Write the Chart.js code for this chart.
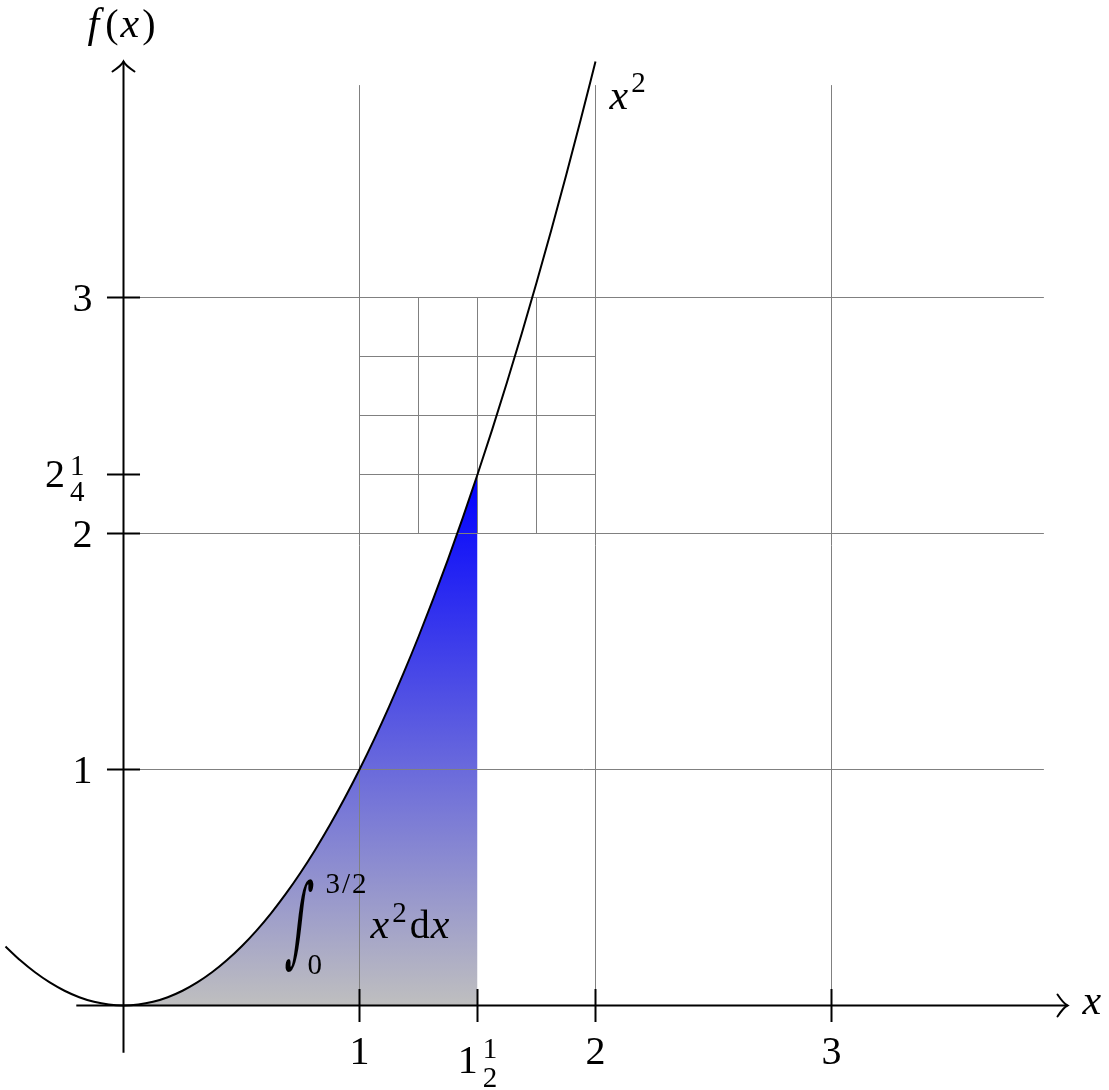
<!DOCTYPE html>
<html>
<head>
<meta charset="utf-8">
<title>x^2</title>
<script src="https://cdn.jsdelivr.net/npm/chart.js@4.4.1/dist/chart.umd.min.js"></script>
<style>
  html, body { margin: 0; padding: 0; background: #fff; }
  #wrap { width: 1109px; height: 1090px; }
</style>
</head>
<body>
<div id="wrap"><canvas id="plot"></canvas></div>
<script>
const curveX = [-0.5, -0.4375, -0.375, -0.3125, -0.25, -0.1875, -0.125, -0.0625,
                0, 0.0625, 0.125, 0.1875, 0.25, 0.3125, 0.375, 0.4375,
                0.5, 0.5625, 0.625, 0.6875, 0.75, 0.8125, 0.875, 0.9375,
                1, 1.0625, 1.125, 1.1875, 1.25, 1.3125, 1.375, 1.4375,
                1.5, 1.5625, 1.625, 1.6875, 1.75, 1.8125, 1.875, 1.9375, 2];
const curveY = [0.25, 0.1914, 0.1406, 0.0977, 0.0625, 0.0352, 0.0156, 0.0039,
                0, 0.0039, 0.0156, 0.0352, 0.0625, 0.0977, 0.1406, 0.1914,
                0.25, 0.3164, 0.3906, 0.4727, 0.5625, 0.6602, 0.7656, 0.8789,
                1, 1.1289, 1.2656, 1.4102, 1.5625, 1.7227, 1.8906, 2.0664,
                2.25, 2.4414, 2.6406, 2.8477, 3.0625, 3.2852, 3.5156, 3.7539, 4];

// integral limits (shaded area)
const areaFrom = 0;
const areaTo = 1.5;

// grid
const majorGrid = [1, 2, 3];
const majorGridEnd = 3.9;
const fineGridX = [1, 1.25, 1.5, 1.75, 2];
const fineGridY = [2, 2.25, 2.5, 2.75, 3];

// axes
const axisStart = -0.2;
const axisEnd = 4;
const tickHalf = 0.07;

// ticks: [whole, numerator, denominator]
const xTicks = [1, 1.5, 2, 3];
const xTickLabels = [['1'], ['1', '1', '2'], ['2'], ['3']];
const yTicks = [1, 2, 2.25, 3];
const yTickLabels = [['1'], ['2'], ['2', '1', '4'], ['3']];

const FONT = '"Liberation Serif", "DejaVu Serif", serif';
const rm = s => s + 'px ' + FONT;
const it = s => 'italic ' + s + 'px ' + FONT;

function seg(x1, y1, x2, y2, color, width, order) {
  return {
    data: [{ x: x1, y: y1 }, { x: x2, y: y2 }],
    showLine: true, borderColor: color, borderWidth: width,
    pointRadius: 0, order: order, fill: false
  };
}

const curvePts = curveX.map((x, i) => ({ x: x, y: curveY[i] }));
const areaPts = curvePts.filter(p => p.x >= areaFrom && p.x <= areaTo);

const datasets = [];

// shaded integral
datasets.push({
  data: areaPts,
  showLine: true,
  borderWidth: 0,
  borderColor: 'rgba(0,0,0,0)',
  pointRadius: 0,
  cubicInterpolationMode: 'monotone',
  fill: 'origin',
  order: 10,
  backgroundColor: ctx => {
    const chart = ctx.chart;
    if (!chart.chartArea) return 'rgb(95,95,223)';
    const ys = chart.scales.y;
    const g = chart.ctx.createLinearGradient(0, ys.getPixelForValue(0), 0, ys.getPixelForValue(areaPts[areaPts.length - 1].y));
    g.addColorStop(0, 'rgb(191,191,191)');
    g.addColorStop(1, 'rgb(0,0,255)');
    return g;
  }
});

// grid lines
const gridColor = 'rgb(128,128,128)';
majorGrid.forEach(v => {
  datasets.push(seg(v, 0, v, majorGridEnd, gridColor, 1, 8));
  datasets.push(seg(0, v, majorGridEnd, v, gridColor, 1, 8));
});
fineGridX.forEach(v => datasets.push(seg(v, fineGridY[0], v, fineGridY[fineGridY.length - 1], gridColor, 1, 8)));
fineGridY.forEach(v => datasets.push(seg(fineGridX[0], v, fineGridX[fineGridX.length - 1], v, gridColor, 1, 8)));

// curve
datasets.push({
  data: curvePts,
  showLine: true,
  borderColor: '#000',
  borderWidth: 2,
  pointRadius: 0,
  cubicInterpolationMode: 'monotone',
  fill: false,
  order: 3
});

// axes and ticks
datasets.push(seg(axisStart, 0, axisEnd, 0, '#000', 2, 1));
datasets.push(seg(0, axisStart, 0, axisEnd, '#000', 2, 1));
xTicks.forEach(v => datasets.push(seg(v, -tickHalf, v, tickHalf, '#000', 2, 1)));
yTicks.forEach(v => datasets.push(seg(-tickHalf, v, tickHalf, v, '#000', 2, 1)));

// draw a run of text pieces, returns total width
function runs(ctx, parts, x, y, measureOnly) {
  let cx = x;
  parts.forEach(p => {
    ctx.font = p.f;
    if (!measureOnly) ctx.fillText(p.t, cx + (p.dx || 0), y + (p.dy || 0));
    cx += ctx.measureText(p.t).width + (p.dx || 0);
  });
  return cx - x;
}

function arrowHead(ctx, tx, ty, dir) {
  ctx.save();
  ctx.translate(tx, ty);
  if (dir === 'up') ctx.rotate(-Math.PI / 2);
  ctx.beginPath();
  ctx.moveTo(-10, -11);
  ctx.bezierCurveTo(-6, -5, -3, -1.5, 0, 0);
  ctx.bezierCurveTo(-3, 1.5, -6, 5, -10, 11);
  ctx.lineWidth = 2;
  ctx.strokeStyle = '#000';
  ctx.lineCap = 'round';
  ctx.stroke();
  ctx.restore();
}

const labels = {
  id: 'labels',
  afterDatasetsDraw(chart) {
    const ctx = chart.ctx;
    const xs = chart.scales.x, ys = chart.scales.y;
    const px = v => xs.getPixelForValue(v), py = v => ys.getPixelForValue(v);
    ctx.save();
    ctx.fillStyle = '#000';
    ctx.textBaseline = 'alphabetic';
    ctx.textAlign = 'left';

    arrowHead(ctx, px(axisEnd), py(0), 'right');
    arrowHead(ctx, px(0), py(axisEnd), 'up');

    const big = 40, bigIt = 42, small = 29;

    // x tick labels
    xTicks.forEach((v, i) => {
      const l = xTickLabels[i];
      if (l.length === 1) {
        ctx.font = rm(big);
        const w = ctx.measureText(l[0]).width;
        ctx.fillText(l[0], px(v) - w / 2, py(0) + 58);
      } else {
        ctx.font = rm(big);
        const w1 = ctx.measureText(l[0]).width;
        ctx.font = rm(small);
        const wf = Math.max(ctx.measureText(l[1]).width, ctx.measureText(l[2]).width);
        const total = w1 + 5 + wf;
        const left = px(v) - total / 2;
        const base = py(0) + 67;
        ctx.font = rm(big);
        ctx.fillText(l[0], left, base);
        ctx.font = rm(small);
        const fc = left + w1 + 5 + wf / 2;
        ctx.fillText(l[1], fc - ctx.measureText(l[1]).width / 2, base - 15);
        ctx.fillText(l[2], fc - ctx.measureText(l[2]).width / 2, base + 14);
      }
    });

    // y tick labels
    yTicks.forEach((v, i) => {
      const l = yTickLabels[i];
      const right = px(0) - 31;
      if (l.length === 1) {
        ctx.font = rm(big);
        const w = ctx.measureText(l[0]).width;
        ctx.fillText(l[0], right - w, py(v) + 13);
      } else {
        ctx.font = rm(small);
        const wf = Math.max(ctx.measureText(l[1]).width, ctx.measureText(l[2]).width);
        const fc = right - 8 - wf / 2;
        const base = py(v) + 12;
        ctx.fillText(l[1], fc - ctx.measureText(l[1]).width / 2, base - 12);
        ctx.fillText(l[2], fc - ctx.measureText(l[2]).width / 2, base + 14);
        ctx.font = rm(big);
        const w1 = ctx.measureText(l[0]).width;
        ctx.fillText(l[0], fc - wf / 2 - 5 - w1, base);
      }
    });

    // axis names
    const fx = [{ t: 'f', f: it(bigIt) }, { t: '(', f: rm(big), dx: 6 }, { t: 'x', f: it(bigIt), dx: 2 },
                { t: ')', f: rm(big), dx: 3 }];
    const wfx = runs(ctx, fx, 0, 0, true);
    runs(ctx, fx, px(0) - 2 - wfx / 2, py(axisEnd) - 25);
    ctx.font = it(bigIt);
    ctx.fillText('x', px(axisEnd) + 15, py(0) + 8);

    // curve label
    runs(ctx, [{ t: 'x', f: it(bigIt) }, { t: '2', f: rm(small), dy: -17, dx: 3 }], px(2) + 14, py(4) + 47);

    // integral sign: glyph fitted into its box, then slanted like a display integral
    ctx.save();
    ctx.font = '100px "DejaVu Serif", serif';
    const m = ctx.measureText('\u222B');
    const gl = -m.actualBoundingBoxLeft, gr = m.actualBoundingBoxRight;
    const gt = -m.actualBoundingBoxAscent, gb = m.actualBoundingBoxDescent;
    const bx0 = px(1) - 70, bx1 = px(1) - 50, by0 = py(0) - 127, by1 = py(0) - 33;
    const cx = (bx0 + bx1) / 2, cy = (by0 + by1) / 2;
    ctx.translate(cx, cy);
    ctx.transform(1, 0, -0.1, 1, 0, 0);
    ctx.translate(-cx, -cy);
    ctx.translate(bx0, by0);
    ctx.scale((bx1 - bx0) / (gr - gl), (by1 - by0) / (gb - gt));
    ctx.fillText('\u222B', -gl, -gt);
    ctx.restore();

    runs(ctx, [{ t: '3', f: rm(small) }, { t: '/', f: rm(small), dx: 2 }, { t: '2', f: rm(small), dx: 2 }],
      px(1) - 34, py(0) - 113);
    ctx.font = rm(small);
    ctx.fillText('0', px(1) - 52, py(0) - 32);
    runs(ctx, [
      { t: 'x', f: it(bigIt) },
      { t: '2', f: rm(small), dy: -16, dx: 3 },
      { t: 'd', f: rm(big), dx: 3 },
      { t: 'x', f: it(bigIt), dx: 1 }
    ], px(1) + 11, py(0) - 68);

    ctx.restore();
  }
};

new Chart(document.getElementById('plot'), {
  type: 'scatter',
  data: { datasets: datasets },
  options: {
    responsive: true,
    maintainAspectRatio: false,
    animation: false,
    layout: { padding: 0 },
    scales: {
      x: { type: 'linear', display: false, min: -123.5 / 236, max: (1109 - 123.5) / 236 },
      y: { type: 'linear', display: false, min: (1005.5 - 1090) / 236, max: 1005.5 / 236 }
    },
    plugins: {
      legend: { display: false },
      tooltip: { enabled: false }
    }
  },
  plugins: [labels]
});
</script>
</body>
</html>
